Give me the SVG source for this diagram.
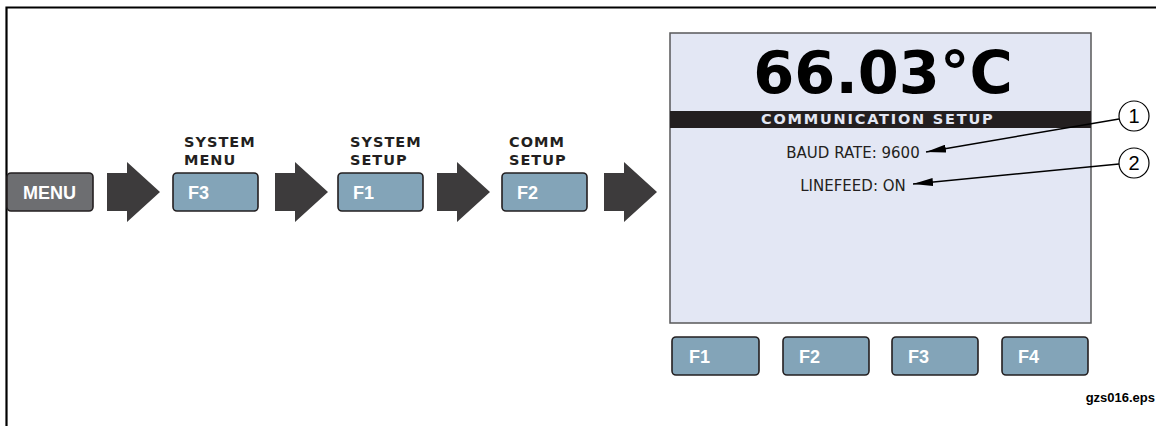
<svg xmlns="http://www.w3.org/2000/svg" width="1156" height="426" viewBox="0 0 1156 426">
<defs>
<style>
.btn{fill:#83a4b8;stroke:#231f20;stroke-width:1.6}
.menu{fill:#6d6e71;stroke:#231f20;stroke-width:1.6}
.bt{font-family:"Liberation Sans",Arial,sans-serif;font-weight:bold;font-size:18px;fill:#fff}
.lbl{font-family:"DejaVu Sans",Verdana,sans-serif;font-weight:bold;font-size:14.5px;letter-spacing:1px;fill:#231f20}
.arr{fill:#3d3b3c}
.scr{font-family:"DejaVu Sans",Verdana,sans-serif;font-size:15px;fill:#231f20}
.lead{stroke:#000;stroke-width:1.5;fill:none}
.call{fill:#fff;stroke:#000;stroke-width:1.2}
.cn{font-family:"Liberation Sans",Arial,sans-serif;font-size:20px;fill:#000;text-anchor:middle}
</style>
<marker id="ah" viewBox="0 0 20 8" refX="20" refY="4" markerWidth="20" markerHeight="8" markerUnits="userSpaceOnUse" orient="auto">
<path d="M0,0 L20,4 L0,8 Z" fill="#000"/>
</marker>
</defs>
<rect width="1156" height="426" fill="#fff"/>
<path d="M6.5,426 V7.5 H1156" fill="none" stroke="#000" stroke-width="2.2"/>

<g id="menu-button">
<rect class="menu" x="7" y="173" width="86" height="38" rx="4"/>
<text class="bt" x="23" y="199">MENU</text>
</g>
<g id="f3-system-menu">
<text class="lbl" x="184" y="147">SYSTEM</text>
<text class="lbl" x="184" y="165">MENU</text>
<rect class="btn" x="173" y="173" width="85" height="38" rx="4"/>
<text class="bt" x="188" y="199">F3</text>
</g>
<g id="f1-system-setup">
<text class="lbl" x="350" y="147">SYSTEM</text>
<text class="lbl" x="350" y="165">SETUP</text>
<rect class="btn" x="338" y="173" width="85" height="38" rx="4"/>
<text class="bt" x="353" y="199">F1</text>
</g>
<g id="f2-comm-setup">
<text class="lbl" x="509" y="147">COMM</text>
<text class="lbl" x="509" y="165">SETUP</text>
<rect class="btn" x="502" y="173" width="85" height="38" rx="4"/>
<text class="bt" x="517" y="199">F2</text>
</g>

<g id="screen">
<rect x="670" y="33" width="421" height="290" fill="#e3e7f4" stroke="#58585a" stroke-width="1.5"/>
<text x="883" y="93" font-family="'DejaVu Sans',Verdana,sans-serif" font-weight="bold" font-size="59" fill="#000" text-anchor="middle">66.03°C</text>
<rect x="670" y="111" width="421" height="17" fill="#231f20"/>
<text x="761" y="124" font-family="'DejaVu Sans',Verdana,sans-serif" font-weight="bold" font-size="14.5" letter-spacing="1.8" fill="#e3e7f4">COMMUNICATION SETUP</text>
<text class="scr" x="853" y="158" text-anchor="middle">BAUD RATE: 9600</text>
<text class="scr" x="853" y="191" text-anchor="middle">LINEFEED: ON</text>
</g>

<g id="callout-1">
<circle class="call" cx="1134" cy="116" r="15"/>
<text class="cn" x="1134" y="123">1</text>
</g>
<g id="callout-2">
<circle class="call" cx="1134" cy="163" r="15"/>
<text class="cn" x="1134" y="170">2</text>
</g>

<g id="soft-f1">
<rect class="btn" x="672" y="337" width="87" height="38" rx="4"/>
<text class="bt" x="689" y="363">F1</text>
</g>
<g id="soft-f2">
<rect class="btn" x="783" y="337" width="86" height="38" rx="4"/>
<text class="bt" x="799" y="363">F2</text>
</g>
<g id="soft-f3">
<rect class="btn" x="892" y="337" width="86" height="38" rx="4"/>
<text class="bt" x="908" y="363">F3</text>
</g>
<g id="soft-f4">
<rect class="btn" x="1002" y="337" width="86" height="38" rx="4"/>
<text class="bt" x="1018" y="363">F4</text>
</g>

<g id="connectors">
<path class="arr" d="M107,173 H127 V162 L160,192 L127,222 V211 H107 Z"/>
<path class="arr" d="M275,173 H295 V162 L328,192 L295,222 V211 H275 Z"/>
<path class="arr" d="M437,173 H457 V162 L490,192 L457,222 V211 H437 Z"/>
<path class="arr" d="M604,173 H624 V162 L657,192 L624,222 V211 H604 Z"/>
<line class="lead" x1="1119" y1="119" x2="926" y2="152" marker-end="url(#ah)"/>
<line class="lead" x1="1119" y1="164" x2="913" y2="184" marker-end="url(#ah)"/>
</g>

<text x="1155" y="402" font-family="'Liberation Sans',Arial,sans-serif" font-weight="bold" font-size="13" fill="#000" text-anchor="end">gzs016.eps</text>
</svg>
